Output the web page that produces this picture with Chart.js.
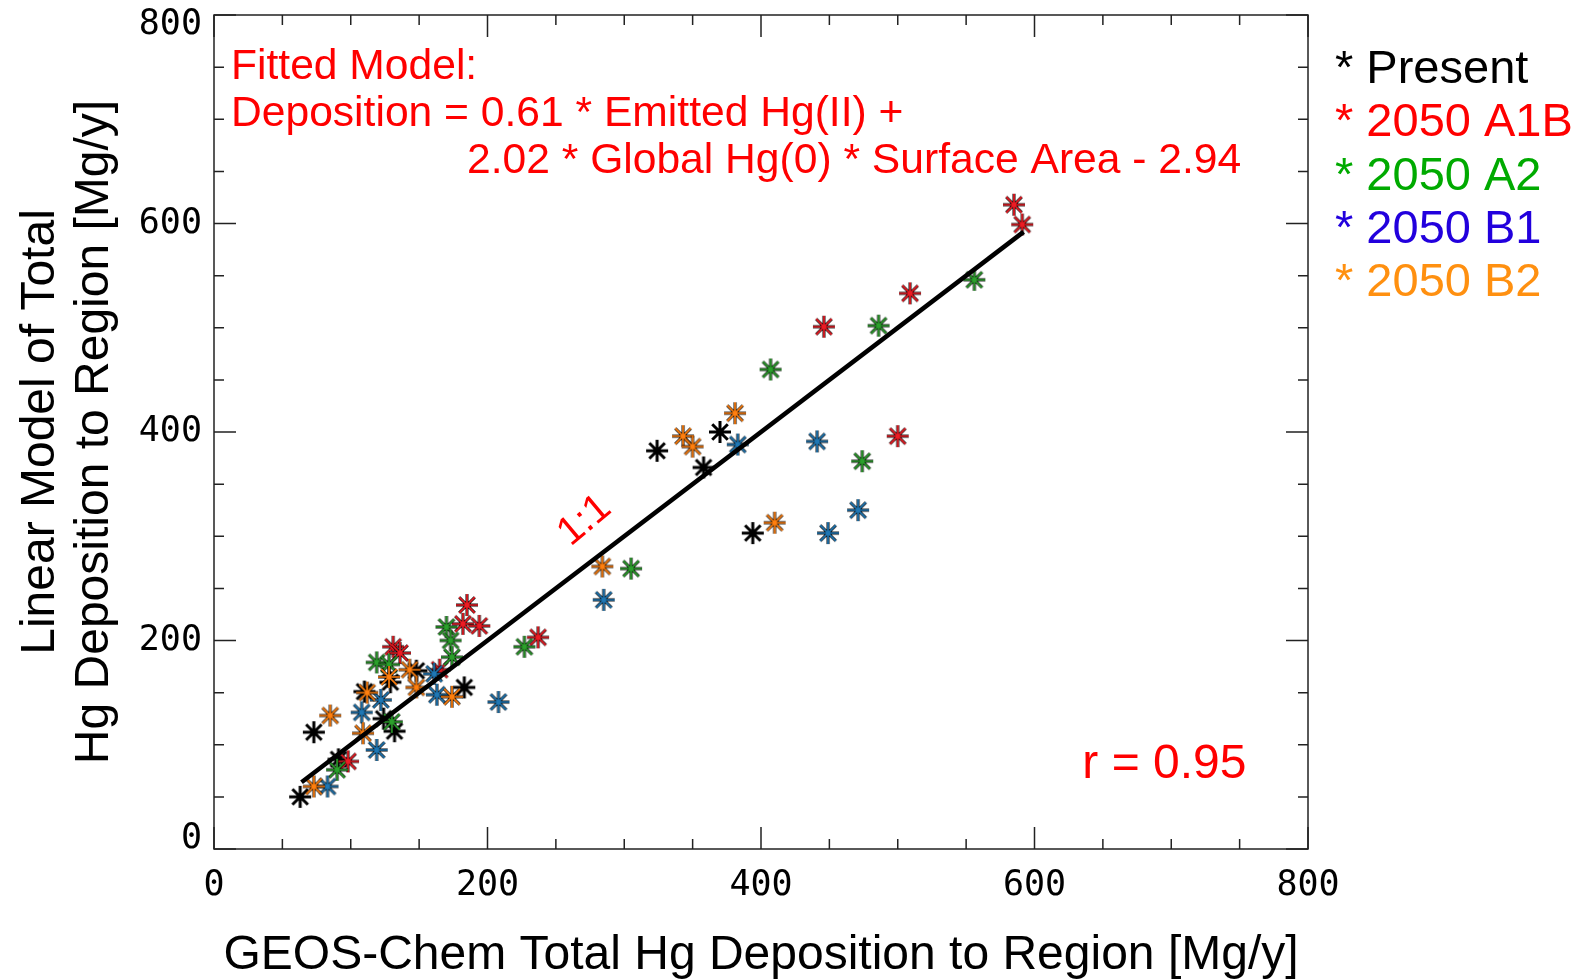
<!DOCTYPE html>
<html>
<head>
<meta charset="utf-8">
<script src="https://cdn.jsdelivr.net/npm/chart.js@4.4.1/dist/chart.umd.min.js"></script>
<style>
  body { margin: 0; background: #fff; }
  #wrap { width: 1581px; height: 979px; }
</style>
</head>
<body>
<div id="wrap"><canvas id="scatter" width="1581" height="979"></canvas></div>
<script>
// values [Mg/y]
var presentX = [63, 91, 73, 124, 132, 129, 110, 148, 183, 324, 358, 370, 394];
var presentY = [50, 86, 112, 125, 113, 160, 151, 171, 155, 382, 366, 400, 303];

var a1bX = [98, 131, 136, 165, 182, 185, 194, 237, 446, 500, 509, 585, 591];
var a1bY = [84, 194, 188, 172, 216, 234, 214, 203, 501, 396, 533, 618, 599];

var a2X = [90, 130, 119, 128, 170, 173, 174, 227, 305, 407, 474, 486, 556];
var a2Y = [76, 122, 179, 177, 213, 200, 184, 194, 269, 460, 372, 502, 546];

var b1X = [83, 119, 108, 122, 161, 163, 208, 285, 383, 441, 449, 471];
var b1Y = [60, 95, 131, 143, 168, 148, 141, 239, 388, 391, 303, 325];

var b2X = [73, 109, 85, 112, 128, 143, 148, 174, 284, 343, 350, 381, 410];
var b2Y = [60, 111, 128, 150, 165, 172, 155, 146, 271, 396, 386, 418, 313];

var oneToOne = [64, 592];

var tickValues = [0, 200, 400, 600, 800];
var minorStep = 50;

var seriesNames = ['Present', '2050 A1B', '2050 A2', '2050 B1', '2050 B2'];
var markerColors = ['#000000', '#ec1c24', '#2ca02c', '#1f77b4', '#ff7f0e'];
var textColors = ['#000000', '#ff0000', '#00aa00', '#2200dd', '#ff9010'];

var fitLines = [
	'Fitted Model:',
	'Deposition = 0.61 * Emitted Hg(II) +',
	'2.02 * Global Hg(0) * Surface Area - 2.94'
];

function pairs(xs, ys) {
	var out = [];
	for (var i in xs) {
		out.push({x: xs[i], y: ys[i]});
	}
	return out;
}

// asterisk marker, black edge under the coloured stroke
function makeStar(color) {
	var c = document.createElement('canvas');
	c.width = 28;
	c.height = 28;
	var g = c.getContext('2d');
	var r = 11;
	function star(w, col) {
		g.strokeStyle = col;
		g.lineWidth = w;
		g.beginPath();
		for (var k = 0; k < 4; k++) {
			var a = k * Math.PI / 4;
			g.moveTo(14 - r * Math.cos(a), 14 - r * Math.sin(a));
			g.lineTo(14 + r * Math.cos(a), 14 + r * Math.sin(a));
		}
		g.stroke();
	}
	star(3, '#000');
	if (color != '#000000') star(1.7, color);
	return c;
}

var allX = [presentX, a1bX, a2X, b1X, b2X];
var allY = [presentY, a1bY, a2Y, b1Y, b2Y];

var datasets = [{
	type: 'line',
	label: '1:1',
	data: pairs(oneToOne, oneToOne),
	borderColor: '#000',
	borderWidth: 4.5,
	pointRadius: 0,
	order: 0
}];
for (var s = 0; s < 5; s++) {
	datasets.push({
		label: seriesNames[s],
		data: pairs(allX[s], allY[s]),
		pointStyle: makeStar(markerColors[s]),
		pointRadius: 14,
		order: 5 - s
	});
}

var decor = {
	id: 'decor',
	afterDraw: function(chart) {
		var ctx = chart.ctx;
		var xs = chart.scales.x, ys = chart.scales.y;
		var a = chart.chartArea;
		ctx.save();

		// frame
		ctx.strokeStyle = '#222';
		ctx.lineWidth = 1.5;
		ctx.strokeRect(a.left, a.top, a.right - a.left, a.bottom - a.top);

		// inward ticks on all four sides
		ctx.beginPath();
		for (var v = 0; v <= 800; v += minorStep) {
			var len = (v % 200 == 0) ? 22 : 10;
			var px = xs.getPixelForValue(v);
			var py = ys.getPixelForValue(v);
			ctx.moveTo(px, a.bottom); ctx.lineTo(px, a.bottom - len);
			ctx.moveTo(px, a.top); ctx.lineTo(px, a.top + len);
			ctx.moveTo(a.left, py); ctx.lineTo(a.left + len, py);
			ctx.moveTo(a.right, py); ctx.lineTo(a.right - len, py);
		}
		ctx.stroke();

		// tick labels
		ctx.fillStyle = '#000';
		ctx.font = '35px "DejaVu Sans Mono"';
		ctx.textBaseline = 'middle';
		ctx.textAlign = 'center';
		tickValues.forEach(function(t) {
			ctx.fillText(String(t), xs.getPixelForValue(t), a.bottom + 37);
		});
		ctx.textAlign = 'right';
		tickValues.forEach(function(t) {
			var py = ys.getPixelForValue(t);
			py = Math.min(Math.max(py, a.top + 10), a.bottom - 10);
			ctx.fillText(String(t), a.left - 12, py);
		});

		// axis titles
		ctx.font = '48px "Liberation Sans"';
		ctx.textBaseline = 'alphabetic';
		ctx.textAlign = 'center';
		ctx.fillText('GEOS-Chem Total Hg Deposition to Region [Mg/y]', (a.left + a.right) / 2, 969);
		ctx.save();
		ctx.translate(0, (a.top + a.bottom) / 2);
		ctx.rotate(-Math.PI / 2);
		ctx.fillText('Linear Model of Total', 0, 54);
		ctx.fillText('Hg Deposition to Region [Mg/y]', 0, 108);
		ctx.restore();

		// fitted model text
		ctx.fillStyle = '#ff0000';
		ctx.font = '42.6px "Liberation Sans"';
		ctx.textAlign = 'left';
		ctx.fillText(fitLines[0], a.left + 17, 79);
		ctx.fillText(fitLines[1], a.left + 17, 126);
		ctx.fillText(fitLines[2], a.left + 253, 173);

		ctx.font = '48px "Liberation Sans"';
		ctx.fillText('r = 0.95', xs.getPixelForValue(635), ys.getPixelForValue(68));

		// 1:1 label along the line
		ctx.save();
		ctx.translate(xs.getPixelForValue(271), ys.getPixelForValue(315));
		ctx.rotate(-40 * Math.PI / 180);
		ctx.font = '40px "Liberation Sans"';
		ctx.textAlign = 'center';
		ctx.textBaseline = 'middle';
		ctx.fillText('1:1', 0, 0);
		ctx.restore();

		// legend text
		ctx.font = '47px "Liberation Sans"';
		ctx.textAlign = 'left';
		for (var i = 0; i < seriesNames.length; i++) {
			ctx.fillStyle = textColors[i];
			ctx.fillText('* ' + seriesNames[i], a.right + 27, 83 + i * 53.3);
		}
		ctx.restore();
	}
};

var ctx = document.getElementById('scatter');
var chart = new Chart(ctx, {
	type: 'scatter',
	data: {datasets: datasets},
	options: {
		responsive: false,
		animation: false,
		devicePixelRatio: 1,
		layout: {padding: {left: 214, right: 273, top: 13, bottom: 130}},
		scales: {
			x: {type: 'linear', min: 0, max: 800, display: false},
			y: {type: 'linear', min: 0, max: 800, display: false}
		},
		plugins: {
			legend: {display: false},
			tooltip: {enabled: false}
		}
	},
	plugins: [decor]
});
</script>
</body>
</html>
